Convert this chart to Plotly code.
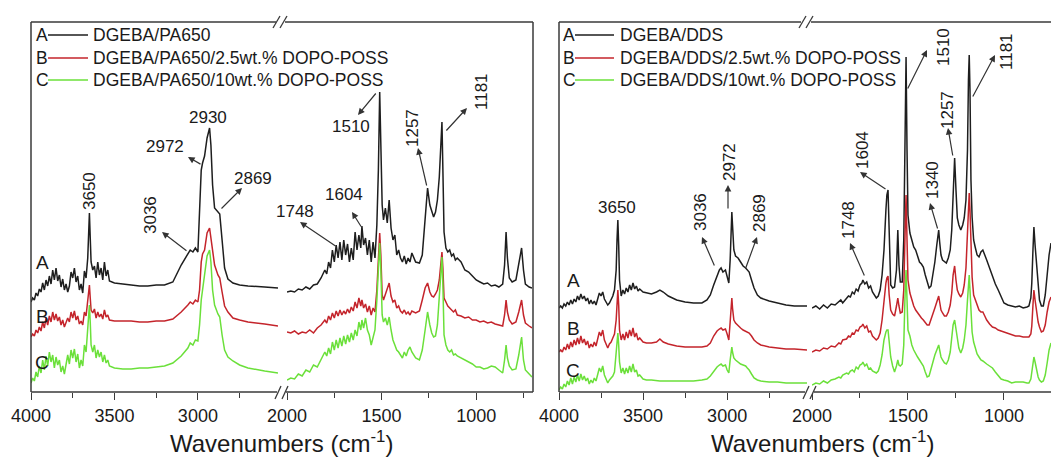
import plotly.graph_objects as go

# ---------------------------------------------------------------------------
# FTIR spectra (absorbance, arbitrary units, curves stacked with offsets)
# Each panel uses a broken wavenumber axis: 4000-2520 and 2000-700 cm-1
# ---------------------------------------------------------------------------

# DGEBA/PA650 system, high-wavenumber part
pa_hi_wn = [4000, 3990, 3980, 3970, 3960, 3950, 3940, 3930, 3920, 3910,
            3900, 3890, 3880, 3870, 3860, 3850, 3840, 3830, 3820, 3810,
            3800, 3790, 3780, 3770, 3760, 3750, 3740, 3730, 3720, 3710,
            3700, 3690, 3680, 3670, 3660, 3655, 3650, 3645, 3640, 3630,
            3620, 3610, 3600, 3590, 3580, 3570, 3560, 3550, 3540, 3530,
            3500, 3450, 3400, 3350, 3300, 3250, 3200, 3150, 3100, 3060,
            3046, 3030, 3015, 3000, 2990, 2980, 2972, 2960, 2945, 2930,
            2922, 2912, 2900, 2880, 2869, 2855, 2840, 2820, 2790, 2750,
            2700, 2600, 2520]
pa_hi_A = [90, 94, 92, 99, 96, 103, 100, 109, 102, 112,
           106, 116, 108, 122, 112, 124, 111, 117, 105, 113,
           102, 108, 100, 106, 120, 114, 124, 110, 116, 102,
           108, 99, 121, 114, 134, 152, 179, 154, 130, 122,
           126, 114, 130, 117, 124, 112, 130, 116, 122, 111,
           109, 108, 107, 106, 106, 107, 107, 110, 127, 138,
           142, 140, 144, 140, 177, 222, 229, 236, 254, 264,
           247, 207, 184, 180, 178, 152, 124, 113, 109, 107,
           106, 105, 104]
pa_hi_B = [55, 58, 56, 62, 59, 65, 61, 70, 64, 74,
           67, 76, 70, 80, 72, 78, 71, 75, 67, 72,
           65, 69, 74, 70, 80, 74, 81, 72, 76, 68,
           71, 67, 80, 76, 92, 100, 107, 94, 82, 79,
           83, 74, 80, 75, 78, 73, 82, 75, 77, 72,
           71, 71, 71, 70, 70, 71, 71, 73, 80, 87,
           90, 88, 92, 90, 102, 130, 138, 142, 159, 164,
           154, 137, 127, 117, 114, 100, 86, 80, 74, 72,
           70, 68, 66]
pa_hi_C = [9, 14, 11, 20, 15, 26, 19, 32, 22, 36,
           26, 40, 30, 37, 24, 35, 27, 32, 20, 26,
           18, 30, 37, 28, 42, 34, 43, 30, 38, 24,
           32, 26, 47, 40, 62, 77, 87, 70, 47, 40,
           47, 34, 42, 35, 40, 30, 37, 29, 32, 26,
           24, 23, 23, 24, 24, 25, 26, 29, 36, 44,
           49, 47, 52, 51, 67, 92, 102, 116, 136, 142,
           130, 102, 87, 78, 75, 57, 42, 35, 31, 27,
           24, 21, 19]

# DGEBA/PA650 system, fingerprint part
pa_lo_wn = [2000, 1980, 1960, 1940, 1920, 1900, 1880, 1860, 1840, 1820,
            1800, 1790, 1780, 1770, 1760, 1750, 1740, 1730, 1720, 1710,
            1700, 1690, 1680, 1670, 1660, 1650, 1640, 1630, 1620, 1610,
            1604, 1595, 1585, 1575, 1565, 1555, 1545, 1535, 1525, 1517,
            1510, 1504, 1497, 1490, 1480, 1470, 1460, 1450, 1440, 1430,
            1420, 1410, 1400, 1390, 1380, 1370, 1360, 1350, 1340, 1320,
            1300, 1285, 1270, 1257, 1245, 1235, 1225, 1215, 1205, 1195,
            1186, 1181, 1176, 1170, 1160, 1150, 1140, 1130, 1120, 1110,
            1100, 1080, 1060, 1040, 1020, 1000, 980, 960, 940, 920,
            900, 880, 860, 850, 842, 835, 825, 810, 790, 775,
            760, 750, 740, 720, 705]
pa_lo_A = [100, 101, 100, 103, 102, 105, 103, 107, 108, 114,
           122, 118, 130, 124, 142, 130, 147, 134, 150, 132,
           152, 137, 148, 130, 144, 132, 160, 142, 157, 144,
           166, 147, 154, 137, 152, 130, 150, 134, 167, 222,
           300, 227, 187, 172, 184, 169, 192, 164, 152, 157,
           137, 142, 134, 130, 136, 128, 134, 130, 139, 130,
           129, 137, 177, 204, 187, 180, 175, 180, 192, 215,
           252, 270, 222, 160, 144, 140, 142, 136, 138, 132,
           134, 130, 122, 120, 116, 112, 110, 108, 109, 106,
           107, 105, 108, 127, 160, 134, 114, 110, 112, 127,
           144, 122, 108, 105, 104]
pa_lo_B = [60, 59, 61, 58, 60, 59, 62, 59, 64, 67,
           72, 69, 76, 72, 79, 74, 81, 76, 82, 77,
           81, 78, 83, 79, 85, 81, 90, 84, 94, 86,
           92, 84, 88, 80, 86, 77, 84, 80, 102, 137,
           159, 137, 97, 92, 97, 102, 109, 96, 90, 92,
           84, 86, 81, 79, 82, 78, 80, 77, 81, 79,
           81, 92, 104, 109, 100, 96, 95, 98, 102, 112,
           130, 140, 124, 94, 90, 86, 84, 82, 80, 82,
           77, 76, 74, 75, 72, 72, 70, 71, 69, 70,
           68, 67, 66, 77, 92, 80, 72, 68, 70, 80,
           92, 77, 69, 66, 64]
pa_lo_C = [12, 14, 13, 18, 16, 22, 20, 27, 25, 33,
           40, 36, 44, 38, 50, 42, 52, 44, 54, 46,
           56, 48, 57, 50, 59, 52, 62, 56, 70, 62,
           72, 64, 74, 62, 57, 47, 54, 62, 92, 124,
           149, 122, 77, 70, 74, 67, 75, 62, 52, 47,
           42, 40, 37, 34, 40, 36, 42, 45, 40, 34,
           32, 42, 62, 80, 67, 59, 55, 56, 67, 92,
           122, 135, 107, 57, 47, 42, 40, 42, 37, 38,
           36, 34, 32, 30, 28, 25, 25, 23, 24, 26,
           25, 22, 19, 32, 47, 34, 26, 22, 23, 37,
           55, 32, 22, 18, 15]

# DGEBA/DDS system, high-wavenumber part
dds_hi_wn = [4000, 3990, 3980, 3970, 3960, 3950, 3940, 3930, 3920, 3910,
             3900, 3890, 3880, 3870, 3860, 3850, 3840, 3830, 3820, 3810,
             3800, 3790, 3780, 3770, 3760, 3750, 3740, 3730, 3720, 3710,
             3700, 3690, 3680, 3670, 3660, 3655, 3650, 3645, 3640, 3630,
             3620, 3610, 3600, 3590, 3580, 3570, 3560, 3550, 3540, 3530,
             3520, 3500, 3480, 3450, 3420, 3400, 3380, 3350, 3300, 3250,
             3200, 3150, 3120, 3100, 3080, 3060, 3046, 3036, 3025, 3010,
             3000, 2990, 2982, 2975, 2972, 2968, 2960, 2950, 2935, 2920,
             2905, 2890, 2880, 2869, 2855, 2840, 2820, 2800, 2750, 2700,
             2650, 2600, 2525]
dds_hi_A = [84, 86, 84, 88, 86, 90, 87, 92, 88, 93,
            90, 96, 92, 98, 93, 96, 91, 94, 88, 92,
            88, 91, 87, 94, 99, 96, 100, 93, 90, 87,
            89, 92, 96, 102, 122, 152, 172, 147, 112, 96,
            102, 98, 104, 100, 107, 102, 109, 103, 106, 101,
            103, 100, 99, 98, 100, 102, 100, 96, 92, 90,
            89, 89, 92, 97, 107, 116, 122, 124, 120, 122,
            115, 109, 132, 172, 180, 167, 142, 136, 134, 130,
            126, 124, 122, 120, 112, 104, 97, 94, 91, 89,
            87, 86, 86]
dds_hi_B = [40, 42, 40, 45, 42, 48, 43, 50, 45, 52,
            47, 54, 48, 56, 49, 53, 47, 51, 44, 48,
            45, 50, 46, 54, 60, 56, 62, 52, 48, 44,
            48, 50, 54, 58, 72, 92, 102, 87, 62, 52,
            58, 52, 60, 54, 62, 56, 64, 55, 59, 52,
            54, 50, 49, 49, 50, 53, 50, 48, 46, 45,
            45, 45, 46, 49, 56, 61, 63, 64, 62, 63,
            58, 52, 70, 90, 94, 84, 72, 69, 66, 64,
            62, 61, 60, 59, 56, 52, 49, 47, 45, 44,
            43, 43, 42]
dds_hi_C = [2, 5, 3, 8, 5, 11, 7, 14, 8, 15,
            10, 17, 11, 18, 12, 16, 11, 14, 8, 12,
            9, 14, 11, 18, 24, 20, 26, 17, 12, 9,
            12, 14, 16, 20, 37, 52, 59, 47, 30, 19,
            24, 18, 24, 19, 26, 20, 28, 20, 22, 16,
            17, 13, 12, 12, 11, 11, 11, 11, 11, 11,
            11, 12, 13, 16, 21, 25, 27, 28, 26, 27,
            22, 19, 32, 42, 45, 40, 34, 32, 30, 28,
            27, 26, 24, 22, 18, 14, 12, 11, 10, 10,
            9, 9, 9]

# DGEBA/DDS system, fingerprint part
dds_lo_wn = [2000, 1980, 1960, 1940, 1920, 1900, 1880, 1860, 1850, 1840,
             1820, 1810, 1800, 1790, 1780, 1770, 1760, 1750, 1740, 1735,
             1725, 1715, 1705, 1695, 1685, 1675, 1665, 1655, 1645, 1635,
             1625, 1615, 1610, 1604, 1598, 1590, 1580, 1570, 1560, 1553,
             1547, 1540, 1530, 1522, 1516, 1510, 1505, 1500, 1490, 1480,
             1470, 1460, 1450, 1440, 1430, 1420, 1410, 1400, 1390, 1380,
             1370, 1360, 1350, 1345, 1340, 1335, 1328, 1320, 1310, 1300,
             1290, 1280, 1272, 1265, 1257, 1250, 1243, 1235, 1225, 1215,
             1207, 1198, 1190, 1185, 1181, 1177, 1172, 1166, 1158, 1150,
             1140, 1130, 1120, 1110, 1100, 1090, 1075, 1060, 1045, 1030,
             1015, 1000, 980, 960, 940, 920, 900, 880, 870, 860,
             855, 849, 844, 838, 830, 822, 815, 805, 795, 785,
             775, 765, 755]
dds_lo_A = [84, 86, 83, 87, 84, 88, 87, 90, 92, 89,
            94, 96, 95, 100, 98, 103, 101, 107, 109, 112,
            108, 110, 104, 106, 100, 97, 94, 96, 102, 117,
            142, 182, 197, 202, 152, 107, 104, 105, 122, 162,
            127, 110, 110, 152, 242, 335, 242, 177, 159, 152,
            145, 142, 135, 130, 128, 125, 117, 109, 104, 106,
            117, 130, 147, 156, 162, 150, 137, 132, 130, 129,
            134, 142, 162, 202, 234, 202, 174, 167, 162, 167,
            174, 192, 242, 312, 337, 302, 212, 175, 152, 145,
            137, 135, 140, 142, 136, 132, 124, 115, 108, 102,
            96, 89, 87, 86, 85, 86, 84, 85, 86, 94,
            109, 142, 165, 147, 125, 102, 92, 86, 86, 97,
            117, 137, 149]
dds_lo_B = [40, 42, 41, 44, 43, 46, 45, 49, 48, 52,
            53, 56, 55, 59, 58, 62, 61, 65, 66, 68,
            64, 66, 60, 61, 56, 54, 52, 54, 59, 72,
            92, 109, 114, 116, 97, 82, 78, 76, 86, 94,
            86, 79, 80, 102, 152, 197, 152, 112, 99, 92,
            86, 82, 79, 76, 74, 72, 69, 67, 67, 72,
            79, 84, 90, 94, 96, 90, 82, 79, 76, 76,
            80, 87, 99, 117, 126, 112, 102, 98, 95, 99,
            107, 124, 157, 187, 199, 182, 142, 115, 97, 92,
            86, 82, 80, 80, 76, 72, 68, 65, 64, 62,
            61, 60, 59, 58, 56, 56, 55, 55, 55, 58,
            66, 87, 102, 92, 79, 70, 65, 60, 61, 67,
            80, 90, 95]
dds_lo_C = [7, 9, 8, 11, 9, 12, 13, 15, 14, 17,
            19, 18, 21, 22, 20, 25, 23, 27, 28, 30,
            26, 28, 23, 24, 21, 20, 19, 21, 27, 37,
            52, 60, 62, 62, 47, 35, 26, 20, 26, 32,
            27, 26, 28, 47, 92, 122, 92, 62, 56, 47,
            42, 38, 35, 32, 29, 26, 20, 15, 16, 22,
            30, 37, 43, 46, 47, 42, 35, 32, 29, 28,
            32, 40, 54, 67, 72, 62, 52, 44, 39, 44,
            52, 67, 92, 109, 117, 102, 77, 60, 50, 44,
            38, 35, 32, 31, 29, 28, 26, 24, 20, 16,
            13, 12, 11, 9, 10, 10, 10, 9, 9, 13,
            20, 30, 35, 30, 22, 15, 12, 10, 11, 17,
            29, 42, 49]

curve_tags = ["A", "B", "C"]
pa_names = ["DGEBA/PA650", "DGEBA/PA650/2.5wt.% DOPO-POSS", "DGEBA/PA650/10wt.% DOPO-POSS"]
dds_names = ["DGEBA/DDS", "DGEBA/DDS/2.5wt.% DOPO-POSS", "DGEBA/DDS/10wt.% DOPO-POSS"]

# peak assignments marked in each panel (cm-1)
pa_peaks = [3650, 3036, 2972, 2930, 2869, 1748, 1604, 1510, 1257, 1181]
dds_peaks = [3650, 3036, 2972, 2869, 1748, 1604, 1510, 1340, 1257, 1181]

major_hi, minor_hi = [4000, 3500, 3000], [3750, 3250, 2750]
major_lo, minor_lo = [2000, 1500, 1000], [1750, 1250, 750]

# ---------------------------------------------------------------------------
W, H = 1051, 463
FONT = "Liberation Sans, Arial, sans-serif"
INK = "#1a1a1a"
FRAME = "#3a3a3a"
COLORS = ["#1e1e1e", "#c4242b", "#6be03a"]


def fx(p):
    return p / W


def fy(p):
    return 1 - p / H


for wn, series in [(pa_hi_wn, [pa_hi_A, pa_hi_B, pa_hi_C]),
                   (pa_lo_wn, [pa_lo_A, pa_lo_B, pa_lo_C]),
                   (dds_hi_wn, [dds_hi_A, dds_hi_B, dds_hi_C]),
                   (dds_lo_wn, [dds_lo_A, dds_lo_B, dds_lo_C])]:
    for s in series:
        assert len(s) == len(wn), (len(s), len(wn))

traces = []
segments = [
    ("x", pa_hi_wn, [pa_hi_A, pa_hi_B, pa_hi_C], pa_names),
    ("x2", pa_lo_wn, [pa_lo_A, pa_lo_B, pa_lo_C], pa_names),
    ("x3", dds_hi_wn, [dds_hi_A, dds_hi_B, dds_hi_C], dds_names),
    ("x4", dds_lo_wn, [dds_lo_A, dds_lo_B, dds_lo_C], dds_names),
]
for xa, wn, series, names in segments:
    for vals, col, name in zip(series, COLORS, names):
        traces.append(go.Scatter(x=wn, y=vals, mode="lines", xaxis=xa, yaxis="y",
                                 name=name, showlegend=False, hoverinfo="skip",
                                 line=dict(color=col, width=1.5)))


def xaxis(dom_px, rng, major, minor):
    return dict(domain=[fx(dom_px[0]), fx(dom_px[1])], range=rng, anchor="y",
                automargin=False, showgrid=False, zeroline=False, showline=False,
                ticks="outside", ticklen=7, tickwidth=1.3, tickcolor=FRAME,
                tickmode="array", tickvals=major, ticktext=[str(v) for v in major],
                tickfont=dict(family=FONT, size=18, color=INK),
                minor=dict(tickvals=minor, ticks="outside", ticklen=5,
                           tickwidth=1.3, tickcolor=FRAME, showgrid=False))


shapes = []


def seg(x0, y0, x1, y1, color=FRAME, width=1.5):
    shapes.append(dict(type="line", xref="paper", yref="paper",
                       x0=fx(x0), y0=fy(y0), x1=fx(x1), y1=fy(y1),
                       line=dict(color=color, width=width)))


TOP, BOT = 22, 392
# left panel frame with axis breaks
seg(31, TOP, 31, BOT)
seg(533, TOP, 533, BOT)
seg(31, TOP, 276, TOP)
seg(285, TOP, 533, TOP)
seg(31, BOT, 277, BOT)
seg(286, BOT, 533, BOT)
for bx in (273, 280):
    seg(bx, 28, bx + 7, 16, width=1.3)
for bx in (275, 282):
    seg(bx, 399, bx + 6, 386, width=1.3)
# right panel frame (runs off the right edge)
seg(559, TOP, 559, BOT)
seg(559, TOP, 801, TOP)
seg(811, TOP, W + 2, TOP)
seg(559, BOT, 805, BOT)
seg(814, BOT, W + 2, BOT)
for bx in (799, 806):
    seg(bx, 28, bx + 7, 16, width=1.3)
for bx in (803, 810):
    seg(bx, 399, bx + 6, 386, width=1.3)

annotations = []


def text(s, x, y, size=17, angle=0, xanchor="center"):
    annotations.append(dict(text=s, x=fx(x), y=fy(y), xref="paper", yref="paper",
                            showarrow=False, textangle=angle, xanchor=xanchor,
                            yanchor="middle",
                            font=dict(family=FONT, size=size, color=INK)))


def arrow(head, tail):
    annotations.append(dict(text="", x=fx(head[0]), y=fy(head[1]), xref="paper",
                            yref="paper", showarrow=True, axref="pixel", ayref="pixel",
                            ax=tail[0] - head[0], ay=tail[1] - head[1],
                            arrowhead=2, arrowsize=1.1, arrowwidth=1.2,
                            arrowcolor="#333"))


# legends
for i, (tag, col) in enumerate(zip(curve_tags, COLORS)):
    yy = [35, 58, 80][i]
    text(tag, 34, yy, size=17.5, xanchor="left")
    seg(48, yy, 88, yy, color=col, width=1.4)
    text(pa_names[i], 91, yy, size=17.5, xanchor="left")
    text(tag, 561, yy, size=17.5, xanchor="left")
    seg(575, yy, 614, yy, color=col, width=1.4)
    text(dds_names[i], 618, yy, size=17.5, xanchor="left")

# curve tags
for tag, yy in zip(curve_tags, [262, 316, 362]):
    text(tag, 42, yy, size=19)
for tag, yy in zip(curve_tags, [280, 328, 370]):
    text(tag, 573, yy, size=19)

# peak labels: (centre x, centre y, angle), arrow (head, tail)
pa_label_pos = {
    3650: ((89, 191, -90), None),
    3036: ((151, 215, -90), ((162, 232), (188, 252))),
    2972: ((165, 146, 0), ((188, 157), (202, 165))),
    2930: ((208, 117, 0), None),
    2869: ((253, 178, 0), ((242, 188), (220, 210))),
    1748: ((295, 211, 0), ((300, 222), (337, 247))),
    1604: ((344, 195, 0), ((352, 212), (362, 228))),
    1510: ((351, 127, 0), ((358, 115), (377, 92))),
    1257: ((412, 128, -90), ((418, 148), (427, 187))),
    1181: ((481, 92, -90), ((467, 108), (445, 132))),
}
dds_label_pos = {
    3650: ((617, 207, 0), None),
    3036: ((700, 212, -90), ((702, 237), (715, 267))),
    2972: ((729, 162, -90), ((728, 185), (728, 210))),
    2869: ((760, 213, -90), ((757, 237), (745, 270))),
    1748: ((848, 220, -90), ((850, 243), (865, 277))),
    1604: ((862, 150, -90), ((860, 172), (887, 190))),
    1510: ((943, 47, -90), ((927, 50), (907, 90))),
    1340: ((932, 180, -90), ((930, 203), (938, 230))),
    1257: ((947, 110, -90), ((948, 128), (953, 157))),
    1181: ((1006, 52, -90), ((995, 55), (972, 98))),
}
for peaks, pos in ((pa_peaks, pa_label_pos), (dds_peaks, dds_label_pos)):
    for p in peaks:
        (lx, ly, ang), arr = pos[p]
        text(str(p), lx, ly, size=17, angle=ang)
        if arr:
            arrow(*arr)

# axis titles
text("Wavenumbers (cm<sup>-1</sup>)", 281, 442, size=24)
text("Wavenumbers (cm<sup>-1</sup>)", 822, 442, size=24)

layout = go.Layout(
    width=W, height=H, margin=dict(l=0, r=0, t=0, b=0, pad=0, autoexpand=False),
    paper_bgcolor="white", plot_bgcolor="white",
    xaxis=xaxis((31, 278), [4000, 2520], major_hi, minor_hi),
    xaxis2=xaxis((287, 532), [2000, 705], major_lo, minor_lo),
    xaxis3=xaxis((559, 807), [4000, 2525], major_hi, minor_hi),
    xaxis4=xaxis((812, W), [2000, 755], major_lo, minor_lo[:2]),
    yaxis=dict(domain=[fy(BOT), fy(TOP)], range=[0, 370], visible=False,
               automargin=False),
    shapes=shapes, annotations=annotations, showlegend=False,
)

fig = go.Figure(data=traces, layout=layout)
fig.write_html("out.html")
